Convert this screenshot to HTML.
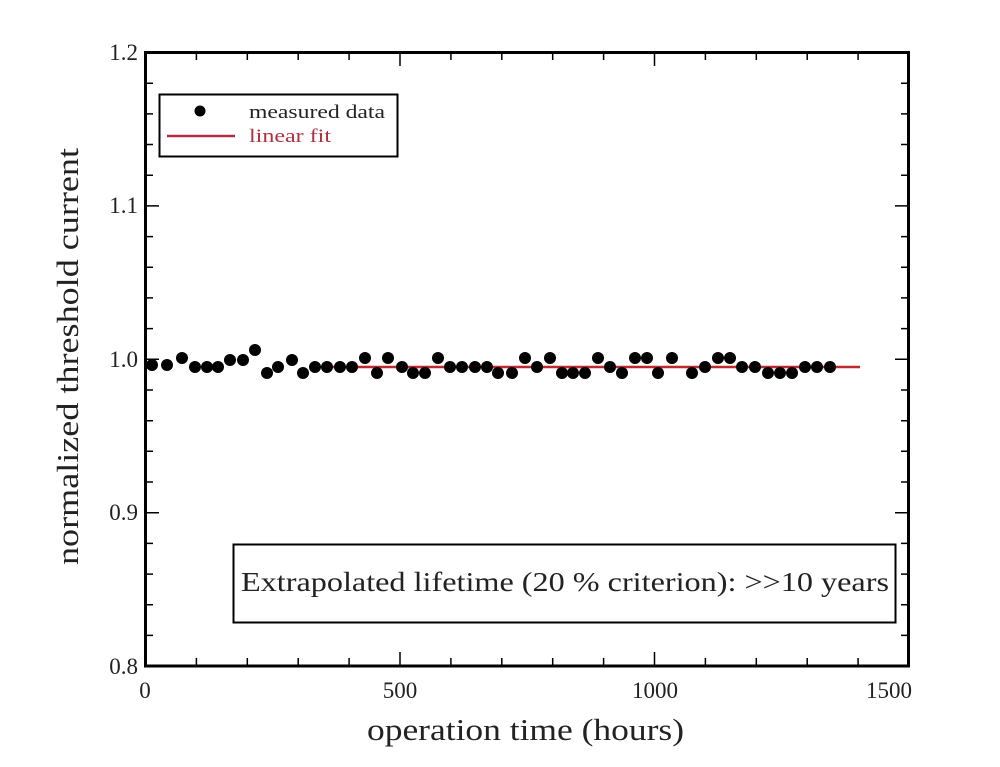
<!DOCTYPE html>
<html><head><style>body{margin:0;background:#fff}svg{display:block}</style></head><body>
<svg width="1000" height="767" viewBox="0 0 1000 767" xmlns="http://www.w3.org/2000/svg" font-family="Liberation Serif, serif">
<rect width="1000" height="767" fill="#fff"/>
<path stroke="#000" stroke-width="1.5" fill="none" d="
M196.4 666v-8M247.3 666v-8M298.2 666v-8M349.1 666v-8M400 666v-14M450.9 666v-8M501.8 666v-8M552.7 666v-8M603.6 666v-8M654.5 666v-14M705.4 666v-8M756.3 666v-8M807.2 666v-8M858.1 666v-8
M196.4 52v8M247.3 52v8M298.2 52v8M349.1 52v8M400 52v14M450.9 52v8M501.8 52v8M552.7 52v8M603.6 52v8M654.5 52v14M705.4 52v8M756.3 52v8M807.2 52v8M858.1 52v8
M145 83.2h8M145 113.9h8M145 144.5h8M145 175.2h8M145 205.9h14M145 236.6h8M145 267.3h8M145 297.9h8M145 328.6h8M145 359.3h14M145 390h8M145 420.7h8M145 451.3h8M145 482h8M145 512.7h14M145 543.4h8M145 574.1h8M145 604.7h8M145 635.4h8
M909 83.2h-8M909 113.9h-8M909 144.5h-8M909 175.2h-8M909 205.9h-14M909 236.6h-8M909 267.3h-8M909 297.9h-8M909 328.6h-8M909 359.3h-14M909 390h-8M909 420.7h-8M909 451.3h-8M909 482h-8M909 512.7h-14M909 543.4h-8M909 574.1h-8M909 604.7h-8M909 635.4h-8"/>
<rect x="145.5" y="52.5" width="763" height="613.5" fill="none" stroke="#000" stroke-width="3"/>
<g font-size="23" fill="#222">
<text x="138" y="60" text-anchor="end">1.2</text>
<text x="138" y="213" text-anchor="end">1.1</text>
<text x="138" y="367" text-anchor="end">1.0</text>
<text x="138" y="520" text-anchor="end">0.9</text>
<text x="138" y="674" text-anchor="end">0.8</text>
<text x="145" y="698" text-anchor="middle">0</text>
<text x="400" y="698" text-anchor="middle">500</text>
<text x="655" y="698" text-anchor="middle">1000</text>
<text x="889" y="698" text-anchor="middle">1500</text>
</g>
<text x="367" y="740" font-size="31" textLength="317" lengthAdjust="spacingAndGlyphs" fill="#222">operation time (hours)</text>
<text transform="translate(78,565) rotate(-90)" font-size="31" textLength="417" lengthAdjust="spacingAndGlyphs" fill="#222">normalized threshold current</text>
<rect x="159.5" y="94.5" width="238" height="62" fill="#fff" stroke="#000" stroke-width="2"/>
<circle cx="200" cy="111" r="5.5" fill="#000"/>
<line x1="167" y1="136" x2="235" y2="136" stroke="#b03040" stroke-width="2.5"/>
<text x="249" y="118" font-size="19" textLength="136" lengthAdjust="spacingAndGlyphs" fill="#222">measured data</text>
<text x="249" y="142" font-size="19" textLength="82" lengthAdjust="spacingAndGlyphs" fill="#b03040">linear fit</text>
<rect x="233.5" y="544.5" width="662" height="78" fill="#fff" stroke="#000" stroke-width="2"/>
<text x="241" y="591" font-size="27" textLength="648" lengthAdjust="spacingAndGlyphs" fill="#222">Extrapolated lifetime (20 % criterion): &gt;&gt;10 years</text>
<line x1="315" y1="367" x2="860" y2="367" stroke="#c0282e" stroke-width="2.5"/>
<g fill="#000">
<circle cx="152" cy="365" r="6"/><circle cx="167" cy="365" r="6"/><circle cx="182" cy="358" r="6"/><circle cx="195" cy="367" r="6"/><circle cx="207" cy="367" r="6"/><circle cx="218" cy="367" r="6"/><circle cx="230" cy="360" r="6"/><circle cx="243" cy="360" r="6"/><circle cx="255" cy="350" r="6"/><circle cx="267" cy="373" r="6"/><circle cx="278" cy="367" r="6"/><circle cx="292" cy="360" r="6"/><circle cx="303" cy="373" r="6"/><circle cx="315" cy="367" r="6"/><circle cx="327" cy="367" r="6"/><circle cx="340" cy="367" r="6"/><circle cx="352" cy="367" r="6"/><circle cx="365" cy="358" r="6"/><circle cx="377" cy="373" r="6"/><circle cx="388" cy="358" r="6"/><circle cx="402" cy="367" r="6"/><circle cx="413" cy="373" r="6"/><circle cx="425" cy="373" r="6"/><circle cx="438" cy="358" r="6"/><circle cx="450" cy="367" r="6"/><circle cx="462" cy="367" r="6"/><circle cx="475" cy="367" r="6"/><circle cx="487" cy="367" r="6"/><circle cx="498" cy="373" r="6"/><circle cx="512" cy="373" r="6"/><circle cx="525" cy="358" r="6"/><circle cx="537" cy="367" r="6"/><circle cx="550" cy="358" r="6"/><circle cx="562" cy="373" r="6"/><circle cx="573" cy="373" r="6"/><circle cx="585" cy="373" r="6"/><circle cx="598" cy="358" r="6"/><circle cx="610" cy="367" r="6"/><circle cx="622" cy="373" r="6"/><circle cx="635" cy="358" r="6"/><circle cx="647" cy="358" r="6"/><circle cx="658" cy="373" r="6"/><circle cx="672" cy="358" r="6"/><circle cx="692" cy="373" r="6"/><circle cx="705" cy="367" r="6"/><circle cx="718" cy="358" r="6"/><circle cx="730" cy="358" r="6"/><circle cx="742" cy="367" r="6"/><circle cx="755" cy="367" r="6"/><circle cx="768" cy="373" r="6"/><circle cx="780" cy="373" r="6"/><circle cx="792" cy="373" r="6"/><circle cx="805" cy="367" r="6"/><circle cx="817" cy="367" r="6"/><circle cx="830" cy="367" r="6"/>
</g>
</svg>
</body></html>
